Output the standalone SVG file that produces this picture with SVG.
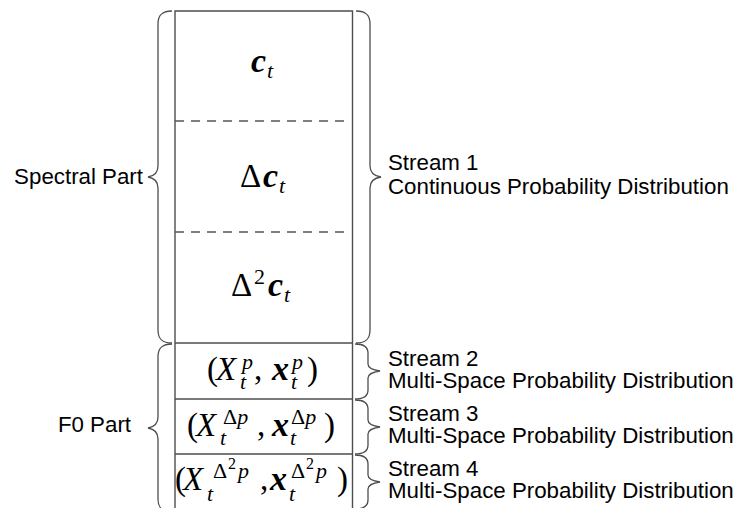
<svg xmlns="http://www.w3.org/2000/svg" width="736" height="508" viewBox="0 0 736 508">
<style>
.box{fill:none;stroke:#4d4d4d;stroke-width:1.4}
.dash{stroke:#555;stroke-width:1.3;stroke-dasharray:9 7}
.brace{fill:none;stroke:#4d4d4d;stroke-width:1.3}
.lbl{font-family:"Liberation Sans",Arial,sans-serif;font-size:22.3px;fill:#000}
.m{font-family:"Liberation Serif","Times New Roman",serif;font-size:33px;fill:#000}
.mi{font-family:"Liberation Serif","Times New Roman",serif;font-size:33px;font-style:italic;fill:#000}
.mb{font-family:"Liberation Serif","Times New Roman",serif;font-size:34px;font-style:italic;font-weight:bold;fill:#000}
.s{font-family:"Liberation Serif","Times New Roman",serif;font-size:22px;fill:#000}
.si{font-family:"Liberation Serif","Times New Roman",serif;font-size:22px;font-style:italic;fill:#000}
.ss{font-family:"Liberation Serif","Times New Roman",serif;font-size:16px;fill:#000}
</style>
<rect width="736" height="508" fill="#fff"/>
<g id="table">
  <path class="box" d="M175,520 V11 H352.5 V520"/>
  <line class="box" x1="175" y1="343" x2="352.5" y2="343"/>
  <line class="box" x1="175" y1="399" x2="352.5" y2="399"/>
  <line class="box" x1="175" y1="454" x2="352.5" y2="454"/>
  <line class="dash" x1="175" y1="121" x2="350" y2="121"/>
  <line class="dash" x1="175" y1="232" x2="350" y2="232"/>
</g>
<g id="row-ct">
  <text class="mb" x="251" y="72">c</text>
  <text class="si" x="267" y="78">t</text>
</g>
<g id="row-dct">
  <text class="m" x="240" y="187">Δ</text>
  <text class="mb" x="263" y="187">c</text>
  <text class="si" x="279" y="193">t</text>
</g>
<g id="row-d2ct">
  <text class="m" x="231" y="296">Δ</text>
  <text class="s" x="254" y="284">2</text>
  <text class="mb" x="268" y="296">c</text>
  <text class="si" x="284" y="302">t</text>
</g>
<g id="row-p">
  <text class="m" x="207" y="380">(</text>
  <text class="mi" x="216" y="380">X</text>
  <text class="si" x="242" y="369">p</text>
  <text class="si" x="240" y="389">t</text>
  <text class="m" x="254" y="380">,</text>
  <text class="mb" x="272" y="380">x</text>
  <text class="si" x="292" y="369">p</text>
  <text class="si" x="291" y="389">t</text>
  <text class="m" x="307" y="380">)</text>
</g>
<g id="row-dp">
  <text class="m" x="187" y="436">(</text>
  <text class="mi" x="196" y="436">X</text>
  <text class="s" x="223" y="424">Δ<tspan class="si">p</tspan></text>
  <text class="si" x="220" y="445">t</text>
  <text class="m" x="257" y="436">,</text>
  <text class="mb" x="272" y="436">x</text>
  <text class="s" x="291" y="424">Δ<tspan class="si">p</tspan></text>
  <text class="si" x="290" y="445">t</text>
  <text class="m" x="324" y="436">)</text>
</g>
<g id="row-d2p">
  <text class="m" x="175" y="490">(</text>
  <text class="mi" x="183" y="490">X</text>
  <text class="s" x="213" y="478">Δ</text>
  <text class="ss" x="228" y="469">2</text>
  <text class="si" x="238" y="478">p</text>
  <text class="si" x="207" y="501">t</text>
  <text class="m" x="260" y="490">,</text>
  <text class="mb" x="270" y="490">x</text>
  <text class="s" x="291" y="478">Δ</text>
  <text class="ss" x="306" y="469">2</text>
  <text class="si" x="316" y="478">p</text>
  <text class="si" x="289" y="501">t</text>
  <text class="m" x="337" y="490">)</text>
</g>
<g id="connectors">
  <path class="brace" d="M172,11 C162,11 158,15 158,24 L158,166 C158,172 154,176 148,177 C154,178 158,182 158,188 L158,330 C158,339 162,343 172,343"/>
  <path class="brace" d="M172,344 C162,344 158,348 158,357 L158,417 C158,423 154,427 148,428 C154,429 158,433 158,439 L158,499 C158,508 162,512 172,512"/>
  <path class="brace" d="M356,11 C366,11 370,15 370,24 L370,166 C370,172 374,176 381,177 C374,178 370,182 370,188 L370,330 C370,339 366,343 356,343"/>
  <path class="brace" d="M355,344 C364,344 368,347 368,353 L368,364 C368,368 373,370 380,371 C373,372 368,374 368,378 L368,390 C368,396 364,399 355,399"/>
  <path class="brace" d="M355,400 C364,400 368,403 368,409 L368,420 C368,424 373,426 380,427 C373,428 368,430 368,434 L368,445 C368,451 364,454 355,454"/>
  <path class="brace" d="M355,455 C364,455 368,458 368,464 L368,475 C368,479 373,481 380,482 C373,483 368,485 368,489 L368,500 C368,506 364,509 355,509"/>
</g>
<g id="label-spectral"><text class="lbl" x="143" y="184" text-anchor="end">Spectral Part</text></g>
<g id="label-f0"><text class="lbl" x="131" y="432" text-anchor="end">F0 Part</text></g>
<g id="label-s1">
  <text class="lbl" x="388" y="170">Stream 1</text>
  <text class="lbl" x="388" y="194">Continuous Probability Distribution</text>
</g>
<g id="label-s2">
  <text class="lbl" x="388" y="366">Stream 2</text>
  <text class="lbl" x="388" y="388">Multi-Space Probability Distribution</text>
</g>
<g id="label-s3">
  <text class="lbl" x="388" y="421">Stream 3</text>
  <text class="lbl" x="388" y="443">Multi-Space Probability Distribution</text>
</g>
<g id="label-s4">
  <text class="lbl" x="388" y="476">Stream 4</text>
  <text class="lbl" x="388" y="498">Multi-Space Probability Distribution</text>
</g>
</svg>
